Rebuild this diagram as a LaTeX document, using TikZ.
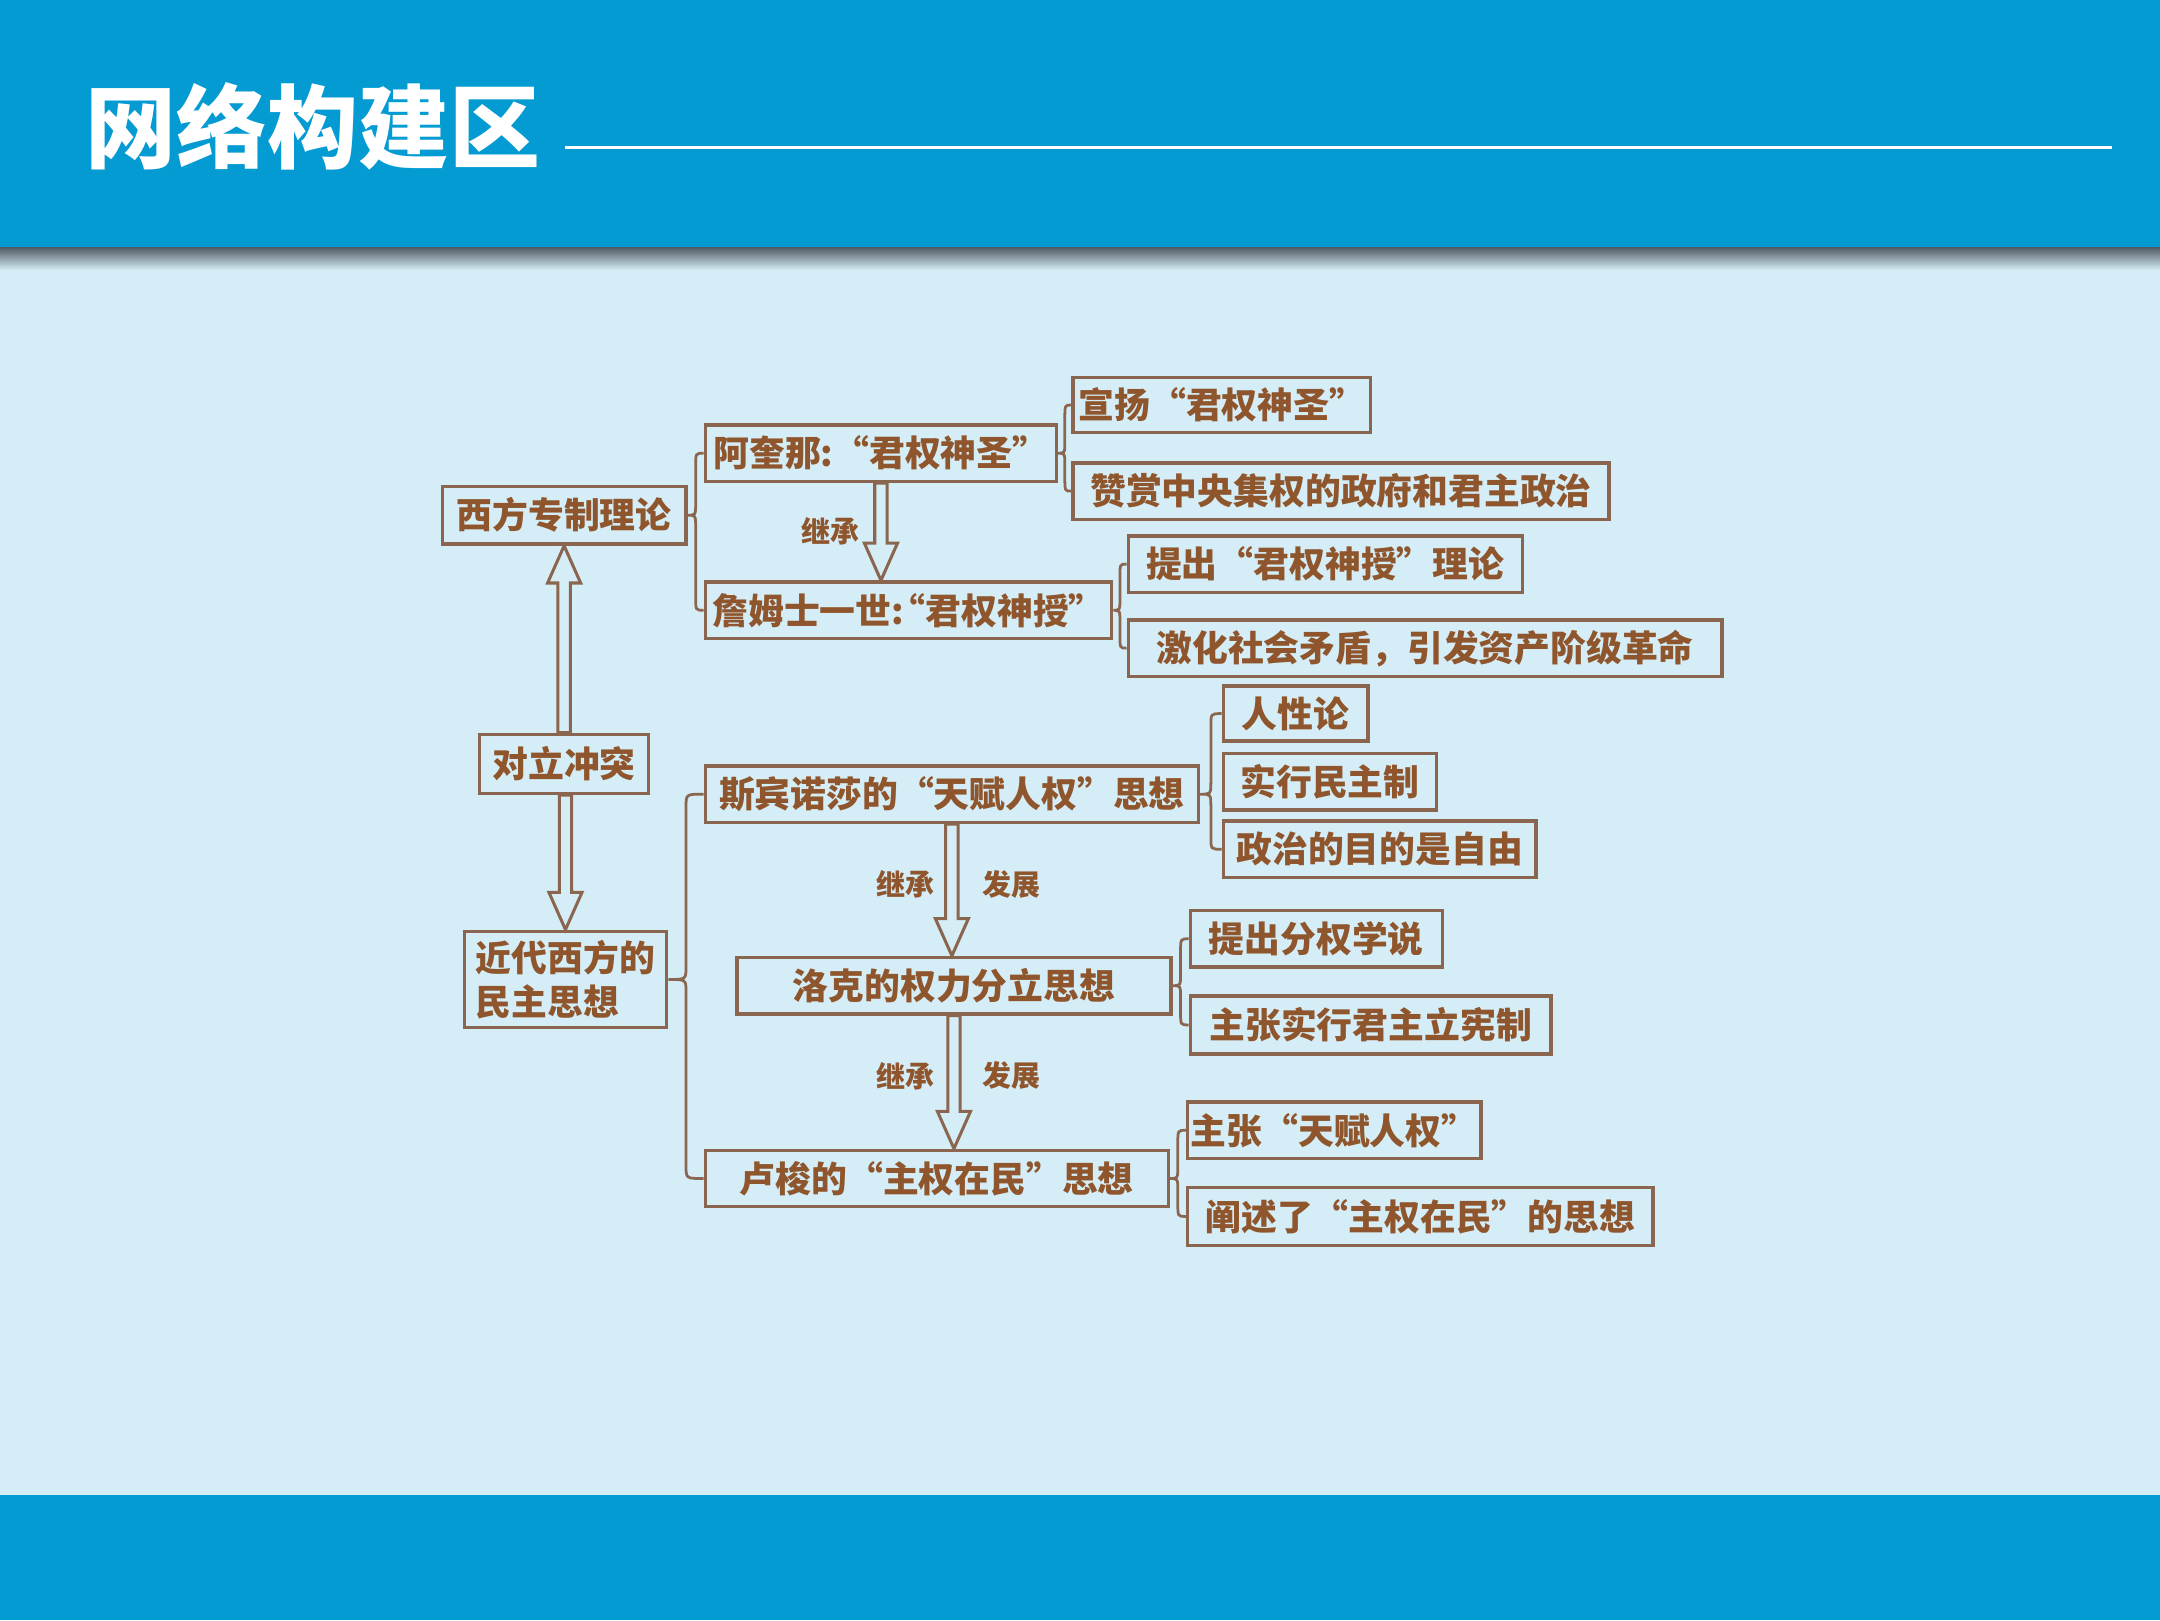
\documentclass[tikz,border=0pt]{standalone}
\usepackage{fontspec}
\newfontfamily\cjk{Noto Sans CJK SC}
\usetikzlibrary{calc}
\definecolor{bandblue}{RGB}{4,154,210}
\definecolor{bgc}{RGB}{213,237,246}
\definecolor{boxc}{RGB}{138,102,80}
\definecolor{txtc}{RGB}{143,86,45}
\definecolor{shadowc}{RGB}{85,95,105}
\newcommand\curly[3]{%
 \draw[brc] let \p1=(#1), \p2=(#2), \p3=(#3), \n1={(\x1+\x2)/2} in
 (\x2,\y2) .. controls (\n1,\y2) .. (\n1,\y2-9pt) -- (\n1,\y1+9pt)
 .. controls (\n1,\y1) .. (\x1,\y1)
 .. controls (\n1,\y1) .. (\n1,\y1-9pt) -- (\n1,\y3+9pt)
 .. controls (\n1,\y3) .. (\x3,\y3);}
\newcommand\hollow[3]{%
 \filldraw[harrow] let \p1=(#1), \p2=(#2) in
 (\x2-4.5pt,\y1) -- (\x2-4.5pt,\y2+#3*27pt) -- (\x2-12pt,\y2+#3*27pt) -- (\x2,\y2)
 -- (\x2+12pt,\y2+#3*27pt) -- (\x2+4.5pt,\y2+#3*27pt) -- (\x2+4.5pt,\y1) -- cycle;}
\begin{document}
\begin{tikzpicture}[x=1pt,y=-1pt,
  bx/.style={draw=boxc, line width=2.4pt, text=txtc, font=\cjk\bfseries\fontsize{26}{30}\selectfont, inner sep=0pt, minimum height=41pt},
  lbl/.style={text=txtc, font=\cjk\bfseries\fontsize{21}{24}\selectfont, inner sep=0pt},
  brc/.style={draw=boxc, line width=2pt},
  harrow/.style={draw=boxc, fill=bgc, line width=2.2pt, line join=miter}]
\useasboundingbox (0,0) rectangle (1568,1176);
\fill[bgc] (0,0) rectangle (1568,1176);
\fill[bandblue] (0,0) rectangle (1568,180);
\shade[top color=shadowc, bottom color=bgc] (0,180) rectangle (1568,196);
\fill[bandblue] (0,1085) rectangle (1568,1176);
\node[font=\cjk\bfseries\fontsize{66}{70}\selectfont, text=white, anchor=west, inner sep=0pt] (title) at (62,92) {网络构建区};
\coordinate (ls) at (410,107);
\coordinate (le) at (1533,107);
\draw[white, line width=2.5pt] (ls) -- (le);

\node[bx, minimum width=177pt, minimum height=42pt] (A) at (409.5,374) {西方专制理论};
\node[bx, minimum width=255pt] (B) at (639.5,329) {阿奎那:“君权神圣”};
\node[bx, minimum width=295pt] (C) at (659.5,443) {詹姆士一世:\hspace{-0.4em}“君权神授”};
\node[bx, minimum width=216pt, minimum height=40pt] (D) at (887,294) {宣扬“君权神圣”};
\node[bx, minimum width=389pt] (E) at (973.5,356.5) {赞赏中央集权的政府和君主政治};
\node[bx, minimum width=286pt] (F) at (962,409.5) {提出“君权神授”理论};
\node[bx, minimum width=431pt] (G) at (1034.5,470.5) {激化社会矛盾，引发资产阶级革命};
\node[bx, minimum width=123pt, minimum height=43pt] (H) at (409.5,554.5) {对立冲突};
\node[bx, minimum width=147pt, minimum height=70pt, align=left, font=\cjk\bfseries\fontsize{26}{32}\selectfont] (I) at (410.5,711) {近代西方的\\民主思想};
\node[bx, minimum width=358pt] (J) at (691,576.5) {斯宾诺莎的“天赋人权”思想};
\node[bx, minimum width=315pt] (K) at (692.5,715.5) {洛克的权力分立思想};
\node[bx, minimum width=336pt] (L) at (680,855.5) {卢梭的“主权在民”思想};
\node[bx, minimum width=105pt, minimum height=40pt] (M) at (940.5,518) {人性论};
\node[bx, minimum width=155pt] (N) at (965.5,567.5) {实行民主制};
\node[bx, minimum width=227pt] (O) at (1001.5,616.5) {政治的目的是自由};
\node[bx, minimum width=183pt] (P) at (955.5,681.5) {提出分权学说};
\node[bx, minimum width=262pt, minimum height=42pt] (Q) at (995,744) {主张实行君主立宪制};
\node[bx, minimum width=213pt] (R) at (968.5,820.5) {主张“天赋人权”};
\node[bx, minimum width=338pt, minimum height=42pt] (S) at (1031,883) {阐述了“主权在民”的思想};

\curly{A.east}{B.west}{C.west}
\curly{B.east}{D.west}{E.west}
\curly{C.east}{F.west}{G.west}
\curly{I.east}{J.west}{L.west}
\curly{J.east}{M.west}{O.west}
\curly{K.east}{P.west}{Q.west}
\curly{L.east}{R.west}{S.west}

\hollow{H.north}{A.south}{-1}
\hollow{H.south}{I.north}{1}
\hollow{B.south}{B.south |- C.north}{1}
\hollow{J.south}{J.south |- K.north}{1}
\hollow{K.south}{K.south |- L.north}{1}

\node[lbl] (l1) at (603,386) {继承};
\node[lbl] (l2) at (657,642) {继承};
\node[lbl] (l3) at (734,642) {发展};
\node[lbl] (l4) at (657,781) {继承};
\node[lbl] (l5) at (734,781) {发展};
\end{tikzpicture}
\end{document}
